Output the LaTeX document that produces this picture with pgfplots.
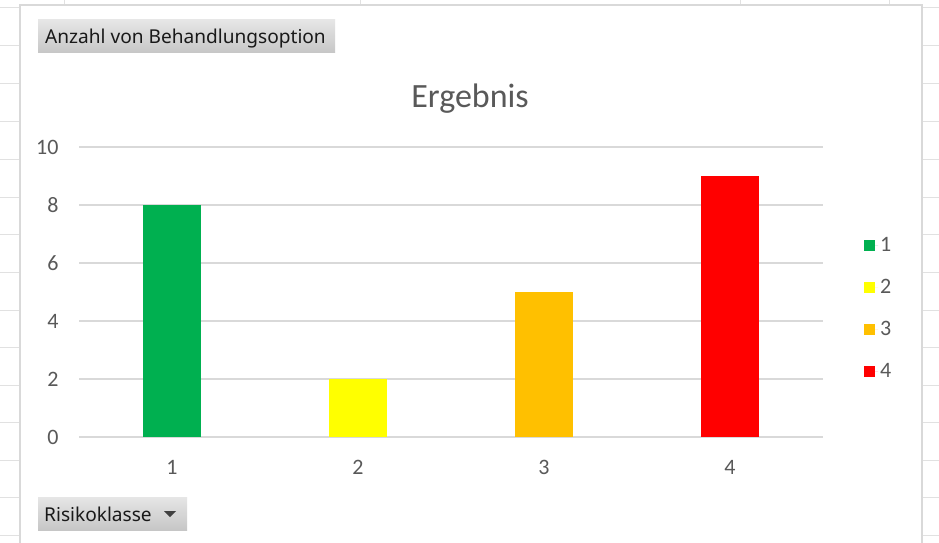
\documentclass[border=0pt]{standalone}
\usepackage{pgfplots}
\pgfplotsset{compat=1.18}
\usepackage{fontspec}
\setmainfont{Carlito}
\newfontfamily\uifont{Noto Sans}
\definecolor{cgreen}{HTML}{00B050}
\definecolor{cyellow}{HTML}{FFFF00}
\definecolor{corange}{HTML}{FFC000}
\definecolor{cred}{HTML}{FF0000}
\definecolor{txtgray}{HTML}{595959}
\definecolor{gridgray}{HTML}{D9D9D9}
\definecolor{sheetgrid}{HTML}{E1E1E1}
\definecolor{btntop}{HTML}{E6E6E6}
\definecolor{btnbot}{HTML}{C6C6C6}
\begin{document}
\begin{tikzpicture}
\useasboundingbox (0pt,0pt) rectangle (939pt,-543pt);
\clip (0pt,0pt) rectangle (939pt,-543pt);
% spreadsheet background grid
\foreach \yy in {8,46,83,121,159,197,234,272,310,347,385,422,460,497,535}{
  \draw[sheetgrid, line width=1pt] (0pt,-\yy pt) -- (939pt,-\yy pt);
}
\foreach \xx in {64,360,740,889}{
  \draw[sheetgrid, line width=1pt] (\xx pt,0pt) -- (\xx pt,-543pt);
}
% chart area
\fill[white] (20pt,-5pt) rectangle (922pt,-560pt);
\draw[gridgray, line width=1.2pt] (20pt,-560pt) -- (20pt,-5pt) -- (922pt,-5pt) -- (922pt,-560pt);
% title
\node[anchor=base, text=txtgray, inner sep=0pt] at (470pt,-107pt) {\fontsize{34}{40}\selectfont Ergebnis};
% buttons
\shade[top color=btntop, bottom color=btnbot] (38pt,-20pt) rectangle (335pt,-53pt);
\node[anchor=base west, inner sep=0pt, text=black!90] at (45pt,-44pt) {\uifont\fontsize{19.1}{23}\selectfont Anzahl von Behandlungsoption};
\shade[top color=btntop, bottom color=btnbot] (38pt,-497pt) rectangle (187pt,-530pt);
\node[anchor=base west, inner sep=0pt, text=black!90] at (44pt,-521pt) {\uifont\fontsize{19.1}{23}\selectfont Risikoklasse};
\fill[black!75] (164pt,-511pt) -- (176pt,-511pt) -- (170pt,-517pt) -- cycle;
\begin{axis}[
  at={(79pt,-437pt)}, anchor=origin,
  scale only axis, width=744pt, height=290pt,
  xmin=0.5, xmax=4.5, ymin=0, ymax=10,
  axis lines=none,
  ymajorgrids, grid style={gridgray, line width=1.2pt},
  ytick={0,2,...,10}, xtick={1,2,3,4},
  major tick length=0pt,
  /pgf/number format/assume math mode=true,
  ticklabel style={font=\fontsize{22}{26}\selectfont, text=txtgray},
  yticklabel style={anchor=east, xshift=-17pt},
  xticklabel style={anchor=base, yshift=-37pt},
  hide x axis=false, hide y axis=false,
  axis x line*=bottom, axis y line*=left,
  x axis line style={draw=none}, y axis line style={draw=none},
  legend style={at={(1.051,0.702)}, anchor=north west, draw=none, fill=none,
    font=\fontsize{22}{26}\selectfont, text=txtgray, row sep=22.3pt,
    legend cell align=left},
  legend image code/.code={\fill[#1] (0pt,-5.5pt) rectangle (11pt,5.5pt); \path (0pt,0pt) -- (14pt,0pt);},
]
\draw[gridgray, line width=1.2pt] (axis cs:0.5,0) -- (axis cs:4.5,0);
\addplot[ybar, bar width=58pt, bar shift=0pt, fill=cgreen, draw=none] coordinates {(1,8)};
\addlegendentry{1}
\addplot[ybar, bar width=58pt, bar shift=0pt, fill=cyellow, draw=none] coordinates {(2,2)};
\addlegendentry{2}
\addplot[ybar, bar width=58pt, bar shift=0pt, fill=corange, draw=none] coordinates {(3,5)};
\addlegendentry{3}
\addplot[ybar, bar width=58pt, bar shift=0pt, fill=cred, draw=none] coordinates {(4,9)};
\addlegendentry{4}
\end{axis}
\end{tikzpicture}
\end{document}
